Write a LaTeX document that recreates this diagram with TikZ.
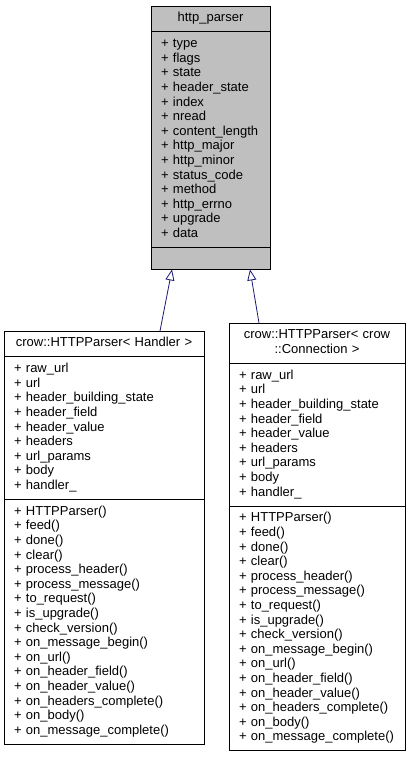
\documentclass[tikz,border=0pt]{standalone}
\usepackage{fontspec}
\setmainfont{Liberation Sans}
\usepackage{xcolor}
\usetikzlibrary{arrows.meta, positioning}
\definecolor{edgeblue}{HTML}{191970}
\definecolor{classgray}{HTML}{BFBFBF}

\begin{document}
\begin{tikzpicture}[x=1pt, y=-1pt,
            cls/.style={draw=black, line width=0.8pt, outer sep=0pt, inner xsep=10pt, inner ysep=5.6pt,
                font=\fontsize{13}{14.6}\selectfont, execute at begin node=\strut, execute at end node=\strut},
            clsname/.style={cls, align=center, text width=#1},
            clsbody/.style={cls, align=left, text width=#1},
            clsempty/.style={draw=black, line width=0.8pt, outer sep=0pt, inner sep=0pt, minimum width=#1, minimum height=22pt},
            derived/.style={draw=edgeblue, line width=0.8pt, -{Triangle[open, length=11pt, width=9pt]}}]
            \useasboundingbox (0,0) rectangle (411,757);
            % base class
            \node[clsname=99pt, fill=classgray, anchor=north] (p_name) at (210.5,6) {http\_parser};
            \node[clsbody=99pt, fill=classgray, below=0pt of p_name] (p_attr) {+ type\\+ flags\\+ state\\+ header\_state\\+ index\\+ nread\\+ content\_length\\+ http\_major\\+ http\_minor\\+ status\_code\\+ method\\+ http\_errno\\+ upgrade\\+ data};
            \node[clsempty=119pt, fill=classgray, below=0pt of p_attr] (p_empty) {};
            % HTTPParser< Handler >
            \node[clsname=180pt, anchor=north] (l_name) at (104,331) {crow::HTTPParser< Handler >};
            \node[clsbody=180pt, below=0pt of l_name] (l_attr) {+ raw\_url\\+ url\\+ header\_building\_state\\+ header\_field\\+ header\_value\\+ headers\\+ url\_params\\+ body\\+ handler\_};
            \node[clsbody=180pt, below=0pt of l_attr] (l_meth) {+ HTTPParser()\\+ feed()\\+ done()\\+ clear()\\+ process\_header()\\+ process\_message()\\+ to\_request()\\+ is\_upgrade()\\+ check\_version()\\+ on\_message\_begin()\\+ on\_url()\\+ on\_header\_field()\\+ on\_header\_value()\\+ on\_headers\_complete()\\+ on\_body()\\+ on\_message\_complete()};
            % HTTPParser< crow::Connection >
            \node[clsname=156pt, anchor=north] (r_name) at (317,323) {crow::HTTPParser< crow\\::Connection >};
            \node[clsbody=156pt, below=0pt of r_name] (r_attr) {+ raw\_url\\+ url\\+ header\_building\_state\\+ header\_field\\+ header\_value\\+ headers\\+ url\_params\\+ body\\+ handler\_};
            \node[clsbody=156pt, below=0pt of r_attr] (r_meth) {+ HTTPParser()\\+ feed()\\+ done()\\+ clear()\\+ process\_header()\\+ process\_message()\\+ to\_request()\\+ is\_upgrade()\\+ check\_version()\\+ on\_message\_begin()\\+ on\_url()\\+ on\_header\_field()\\+ on\_header\_value()\\+ on\_headers\_complete()\\+ on\_body()\\+ on\_message\_complete()};
            % inheritance
            \draw[derived] ([xshift=156pt]l_name.north west) -- ([xshift=21pt]p_empty.south west);
            \draw[derived] ([xshift=30pt]r_name.north west) -- ([xshift=99pt]p_empty.south west);
        \end{tikzpicture}
\end{document}
